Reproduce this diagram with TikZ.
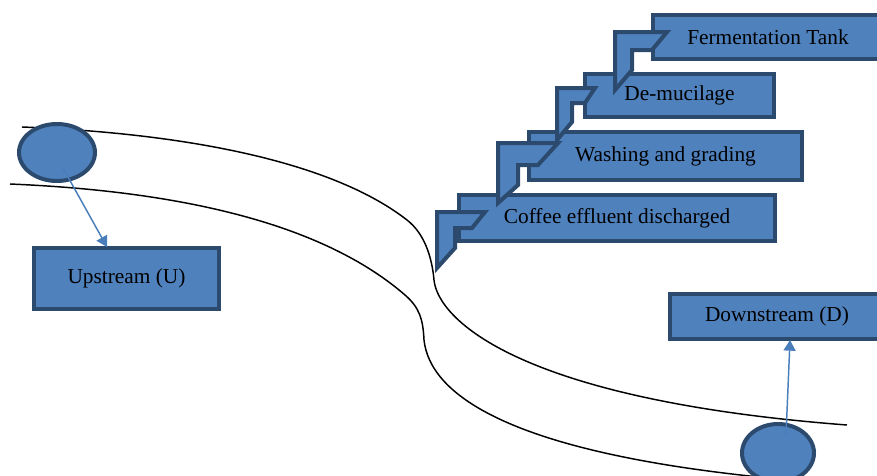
\documentclass[tikz,border=0pt]{standalone}
\usepackage{fontspec}
\setmainfont{Liberation Serif}
\usepackage{xcolor}
\usepackage{tikz}
\usetikzlibrary{positioning, arrows.meta, shapes.geometric}

\definecolor{shapefill}{HTML}{4F81BD}
\definecolor{shapeedge}{HTML}{2C4A6E}
\definecolor{linkblue}{HTML}{4A7EBB}

\begin{document}
\begin{tikzpicture}[
    x=0.75pt, y=-0.75pt,
    box/.style={rectangle, draw=shapeedge, fill=shapefill, line width=3pt, text centered, inner sep=0pt, font=\fontsize{16}{19}\selectfont},
    blob/.style={ellipse, draw=shapeedge, fill=shapefill, line width=3pt, inner sep=0pt},
    bendarrow/.style={draw=shapeedge, fill=shapefill, line width=3pt, line join=miter},
    river/.style={line width=1.1pt, color=black},
    link/.style={-{Triangle[width=9pt,length=8pt]}, line width=1.1pt, color=linkblue}
]
\clip (0,0) rectangle (877,475);

% River banks
\draw[river] (22,127) .. controls (180,133) and (330,160) .. (407,220)
    .. controls (425,234) and (432,258) .. (434,280)
    .. controls (438,320) and (520,400) .. (847,425);
\draw[river] (10,184) .. controls (200,192) and (330,230) .. (405,295)
    .. controls (420,308) and (423,320) .. (424,340)
    .. controls (430,395) and (510,455) .. (790,480);

% Sampling points
\node[blob, minimum width=57pt, minimum height=42.75pt] (upsite) at (57,152.5) {};
\node[blob, minimum width=54pt, minimum height=43.5pt] (downsite) at (778,453) {};

% Processing steps
\node[box, minimum width=172.5pt, minimum height=33pt] (ferment) at (768,37) {Fermentation Tank};
\node[box, minimum width=141.75pt, minimum height=32.25pt] (demucilage) at (679.5,95.5) {De-mucilage};
\node[box, minimum width=204.75pt, minimum height=36pt] (washing) at (665.5,156) {Washing and grading};
\node[box, minimum width=237pt, minimum height=34.5pt] (effluent) at (617,218) {Coffee effluent discharged};

% Bent arrows between steps
\draw[bendarrow] (615,32) -- (667,32) -- (652,50) -- (632,50) -- (632,70) -- (615,90) -- cycle;
\draw[bendarrow] (557,88) -- (595,88) -- (585,103) -- (572,103) -- (572,122) -- (557,140) -- cycle;
\draw[bendarrow] (498,143) -- (558,143) -- (538,165) -- (518,165) -- (518,185) -- (498,203) -- cycle;
\draw[bendarrow] (437,212) -- (485,212) -- (472,228) -- (455,228) -- (455,248) -- (437,268) -- cycle;

% Labels
\node[box, minimum width=138.75pt, minimum height=45.75pt] (upstream) at (126.5,278.5) {Upstream (U)};
\node[box, minimum width=160.5pt, minimum height=33.75pt] (downstream) at (777,316.5) {Downstream (D)};

% Arrows
\coordinate (upfrom) at (63,168);
\coordinate (upto) at (107,247);
\coordinate (downfrom) at (786,435);
\coordinate (downto) at (790,340);
\draw[link] (upfrom) -- (upto);
\draw[link] (downfrom) -- (downto);

\end{tikzpicture}
\end{document}
